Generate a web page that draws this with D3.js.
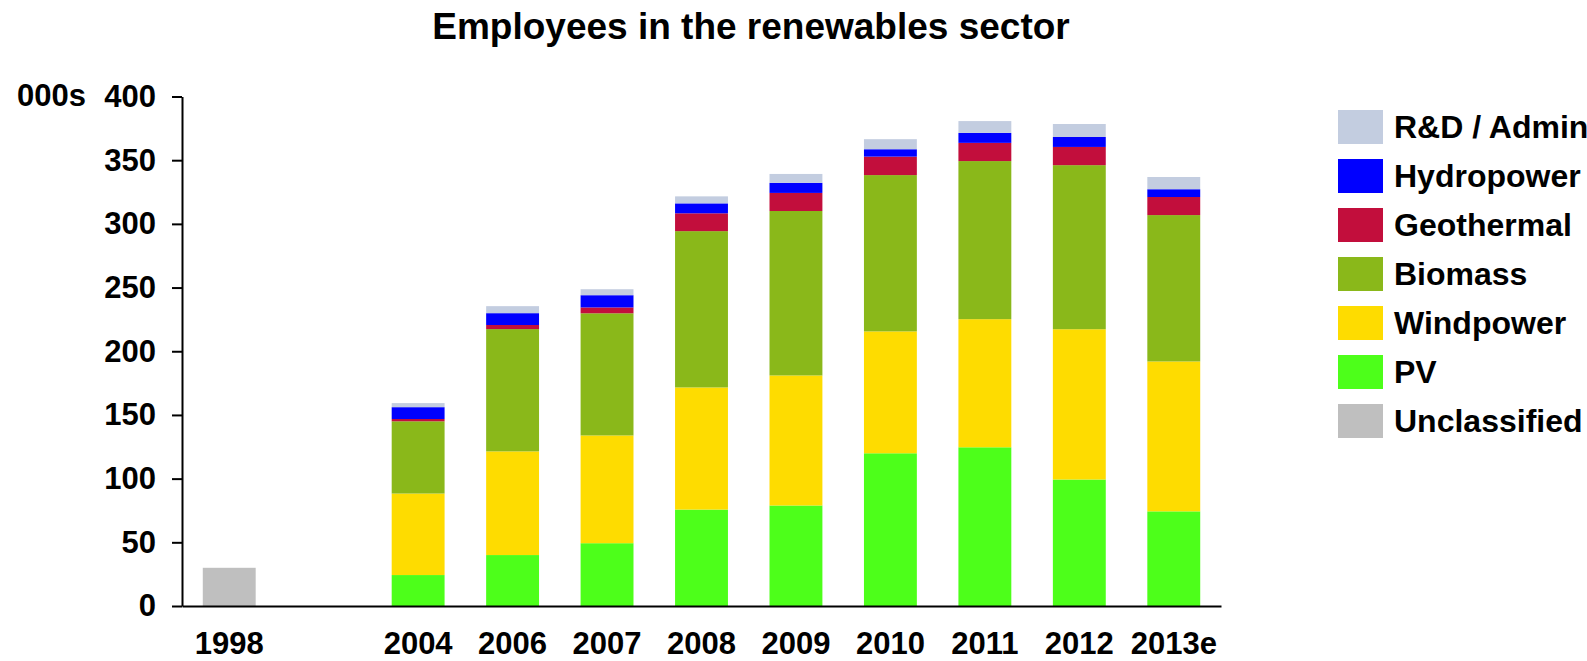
<!DOCTYPE html>
<html>
<head>
<meta charset="utf-8">
<script src="https://cdn.jsdelivr.net/npm/d3@7"></script>
<style>
  html, body { margin: 0; padding: 0; background: #fff; }
  svg { display: block; font-family: "Liberation Sans", Arial, sans-serif; font-weight: bold; }
</style>
</head>
<body>
<svg id="chart" width="1587" height="661"></svg>
<script>
// Employees in the German renewables sector, thousands
const categories = ["1998", "", "2004", "2006", "2007", "2008", "2009", "2010", "2011", "2012", "2013e"];
const pv           = [0, 0, 24.3, 40.0, 49.3, 75.7, 78.9, 119.9, 124.6, 99.3, 74.3];
const windpower    = [0, 0, 64.0, 81.4, 84.6, 95.9, 102.1, 95.7, 100.6, 118.0, 117.7];
const biomass      = [0, 0, 56.7, 96.0, 95.9, 122.7, 129.1, 122.7, 124.1, 128.8, 114.9];
const geothermal   = [0, 0, 1.8, 3.2, 4.6, 14.0, 14.2, 14.5, 14.3, 14.3, 14.2];
const hydropower   = [0, 0, 9.3, 9.3, 9.6, 7.8, 7.9, 5.8, 7.8, 7.8, 6.1];
const rndAdmin     = [0, 0, 3.2, 5.5, 4.7, 5.5, 7.0, 7.9, 9.3, 10.2, 9.6];
const unclassified = [30, 0, 0, 0, 0, 0, 0, 0, 0, 0, 0];
const yTicks = [0, 50, 100, 150, 200, 250, 300, 350, 400];

// stacking order bottom-to-top, legend order top-to-bottom
const seriesKeys = ["PV", "Windpower", "Biomass", "Geothermal", "Hydropower", "R&D / Admin", "Unclassified"];
const seriesValues = [pv, windpower, biomass, geothermal, hydropower, rndAdmin, unclassified];
const seriesColors = ["#4dff1a", "#fedc00", "#8ab81a", "#c20e3c", "#0000ff", "#c3cde0", "#bfbfbf"];
const legendKeys = ["R&D / Admin", "Hydropower", "Geothermal", "Biomass", "Windpower", "PV", "Unclassified"];

const rows = categories.map((c, i) => {
  const r = { category: c };
  seriesKeys.forEach((k, j) => { r[k] = seriesValues[j][i]; });
  return r;
});

const svg = d3.select("#chart");
const color = d3.scaleOrdinal().domain(seriesKeys).range(seriesColors);

const x = d3.scaleBand().domain(categories).range([182, 1221])
  .paddingInner(0.44).paddingOuter(0.22);
const y = d3.scaleLinear().domain([0, 400]).range([606, 96.5]);

const stacked = d3.stack().keys(seriesKeys)(rows);

// bars
svg.append("g").selectAll("g")
  .data(stacked)
  .join("g")
  .attr("fill", d => color(d.key))
  .selectAll("rect")
  .data(d => d)
  .join("rect")
  .attr("x", d => x(d.data.category))
  .attr("width", x.bandwidth())
  .attr("y", d => y(d[1]))
  .attr("height", d => y(d[0]) - y(d[1]));

// y axis
const yAxis = svg.append("g")
  .attr("transform", "translate(182,0)")
  .call(d3.axisLeft(y).tickValues(yTicks).tickSize(10).tickSizeOuter(0).tickPadding(16));
yAxis.select(".domain").attr("stroke", "#000").attr("stroke-width", 2);
yAxis.selectAll(".tick line").attr("stroke", "#000").attr("stroke-width", 2);
yAxis.selectAll(".tick text")
  .attr("font-size", 31).attr("font-weight", "bold").attr("fill", "#000")
  .attr("font-family", "Liberation Sans, Arial, sans-serif");

// x axis
const xAxis = svg.append("g")
  .attr("transform", "translate(0,606)")
  .call(d3.axisBottom(x).tickSize(0).tickSizeOuter(0).tickPadding(26));
xAxis.select(".domain").attr("stroke", "#000").attr("stroke-width", 2);
xAxis.selectAll(".tick text")
  .attr("font-size", 31).attr("font-weight", "bold").attr("fill", "#000")
  .attr("font-family", "Liberation Sans, Arial, sans-serif");

// unit label
svg.append("text")
  .attr("x", 17).attr("y", y(400)).attr("dy", "0.32em")
  .attr("font-size", 31).attr("fill", "#000")
  .text("000s");

// title
svg.append("text")
  .attr("x", 751).attr("y", 39)
  .attr("text-anchor", "middle")
  .attr("font-size", 37).attr("fill", "#000")
  .text("Employees in the renewables sector");

// legend
const legend = svg.append("g").selectAll("g")
  .data(legendKeys)
  .join("g")
  .attr("transform", (d, i) => `translate(1338,${110 + i * 49})`);
legend.append("rect")
  .attr("width", 45).attr("height", 34)
  .attr("fill", d => color(d));
legend.append("text")
  .attr("x", 56).attr("y", 17).attr("dy", "0.35em")
  .attr("font-size", 32).attr("fill", "#000")
  .text(d => d);
</script>
</body>
</html>
